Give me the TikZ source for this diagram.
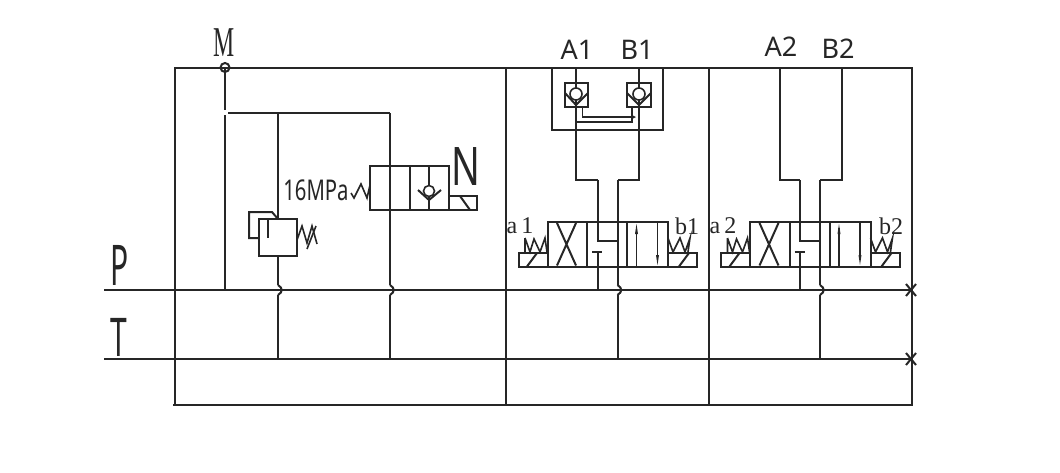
\documentclass[tikz,border=0pt]{standalone}
\usepackage{fontspec}
\setmainfont{Liberation Serif}
\setsansfont{Noto Sans}
\definecolor{ink}{HTML}{262626}
\tikzset{
  x=1pt,y=-1pt,
  ln/.style={draw=ink,line width=2pt,line cap=butt,line join=miter},
  thin ln/.style={draw=ink,line width=1.6pt},
  lab/.style={text=ink,inner sep=0pt,font=\sffamily},
  serif lab/.style={text=ink,inner sep=0pt,font=\rmfamily},
}
\newcommand{\hop}[1]{\draw[ln] (#1,285) .. controls (#1+5,288) and (#1+5,292) .. (#1,295);}
\newcommand{\crossmark}[1]{\draw[ln] (906,#1-6) -- (916,#1+6) (906,#1+6) -- (916,#1-6);}
\newcommand{\spoolvalve}{%
  % ports
  \draw[ln] (597.5,180) -- (597.5,241) -- (617.5,241) (617.5,180) -- (617.5,266);
  \draw[ln] (597.5,252) -- (597.5,289) (592,252) -- (602,252);
  \draw[ln] (617.5,266) -- (617.5,285) (617.5,295) -- (617.5,359);
  \hop{617.5}
  % body
  \draw[ln] (547.5,222) rectangle (668,266.5);
  \draw[ln] (587,222) -- (587,266.5) (627,222) -- (627,266.5);
  \draw[ln] (557,223) -- (576,265.5) (576,223) -- (557,265.5);
  % arrows in the parallel position
  \draw[thin ln] (636.5,228) -- (636.5,266.5) (657.5,222) -- (657.5,260);
  \fill[ink] (636.5,224) -- (635,234) -- (638,234) -- cycle;
  \fill[ink] (657.5,265) -- (656,255) -- (659,255) -- cycle;
  % solenoids
  \draw[ln] (547.5,253) -- (518.5,253) -- (518.5,266.5) -- (547.5,266.5);
  \draw[ln] (527,266.5) -- (537,253);
  \draw[ln] (668,253) -- (697,253) -- (697,266.5) -- (668,266.5);
  \draw[ln] (679,266.5) -- (689,253);
  % springs
  \draw[thin ln] (525,238) -- (525,252) (525,238) -- (530,252) -- (534,239) -- (540,252) -- (545,238) -- (547,252);
  \draw[thin ln] (668,238) -- (673,252) -- (680,238) -- (685,252) -- (690,238) -- (688,252);
}
\begin{document}
\begin{tikzpicture}
\useasboundingbox (0,0) rectangle (1060,472);
% frame
\draw[ln] (175,405) -- (175,67.5) -- (912,67.5) -- (912,405) -- (173,405);
\draw[ln] (506,67.5) -- (506,405) (709,67.5) -- (709,405);
% tank and pressure lines
\draw[ln] (104,290) -- (912,290) (104,359) -- (912,359);
\crossmark{290}
\crossmark{359}
\node[lab] (P) at (120,265) {\scalebox{1}[1.87]{\fontsize{30}{30}\selectfont P}};
\node[lab] (T) at (119,337) {\scalebox{1}[1.78]{\fontsize{30}{30}\selectfont T}};
% gauge port
\node[serif lab] (M) at (224,43) {\scalebox{.95}[1.7]{\fontsize{25}{25}\selectfont M}};
\draw[ln] (225,67.5) circle[radius=4.5];
\draw[ln] (225,67.5) -- (225,110) (225,115) -- (225,290);
\draw[ln] (228,113) -- (390,113);
% relief valve
\draw[ln] (278,113) -- (278,219);
\draw[ln] (278,256) -- (278,285) (278,295) -- (278,359);
\hop{278}
\draw[ln] (259,219) rectangle (297,256);
\draw[ln] (259,238) -- (249,238) -- (249,212) -- (272,212) -- (278,219);
\draw[ln] (268,219) -- (268,238);
\draw[thin ln] (297,240) -- (302,226) -- (307,243) -- (312,226) -- (317,244);
\draw[thin ln] (307,249) -- (316,226);
\node[lab] (press) at (316,190) {\scalebox{.78}[1.1]{\fontsize{26}{26}\selectfont 16MPa}};
% solenoid check valve
\draw[ln] (390,113) -- (390,285) (390,295) -- (390,359);
\hop{390}
\draw[ln] (370,166) rectangle (449,210);
\draw[ln] (410,166) -- (410,210);
\draw[thin ln] (351,193) -- (354,198) -- (361,184) -- (367,198) -- (370,185);
\draw[ln] (429,166) -- (429,210);
\draw[draw=ink,fill=white,line width=1.6pt] (429,191) circle[radius=5.5];
\draw[ln] (418,190) -- (429,200) -- (441,190);
\draw[ln] (449,196) -- (477,196) -- (477,210) -- (449,210);
\draw[ln] (460,196) -- (470,210);
\node[lab] (N) at (466,167) {\scalebox{1}[1.4]{\fontsize{38}{38}\selectfont N}};
% section 1
\node[lab] (A1) at (577,50) {\fontsize{27}{27}\selectfont A1};
\node[lab] (B1) at (637,50) {\fontsize{27}{27}\selectfont B1};
\draw[ln] (552,67.5) -- (552,130) -- (663,130) -- (663,67.5);
\draw[ln] (576,67.5) -- (576,180) -- (597.5,180) (639,67.5) -- (639,180) -- (617.5,180);
\draw[ln] (565,83) rectangle (588,107);
\draw[ln] (627,83) rectangle (651,107);
\draw[ln] (565,93) -- (576,105) -- (588,93) (627,93) -- (639,105) -- (651,93);
\draw[draw=ink,fill=white,line width=1.6pt] (576,94) circle[radius=6];
\draw[draw=ink,fill=white,line width=1.6pt] (639,94) circle[radius=6];
\draw[thin ln] (582.5,107) -- (582.5,117) -- (632,117);
\fill[ink] (636,117) -- (631,114.5) -- (631,119.5) -- cycle;
\draw[thin ln] (576,122) -- (632,122) -- (632,107);
\spoolvalve
\node[serif lab] (a1) at (520,226) {\fontsize{24}{24}\selectfont a\,1};
\node[serif lab] (b1) at (687,226) {\fontsize{24}{24}\selectfont b1};
% section 2
\node[lab] (A2) at (781,47) {\fontsize{27}{27}\selectfont A2};
\node[lab] (B2) at (838,49) {\fontsize{27}{27}\selectfont B2};
\draw[ln] (779.5,67.5) -- (779.5,180) -- (800,180) (842,67.5) -- (842,180) -- (820,180);
\begin{scope}[xshift=202.5pt]
\spoolvalve
\end{scope}
\node[serif lab] (a2) at (723,226) {\fontsize{24}{24}\selectfont a\,2};
\node[serif lab] (b2) at (891,226) {\fontsize{24}{24}\selectfont b2};
\end{tikzpicture}
\end{document}
